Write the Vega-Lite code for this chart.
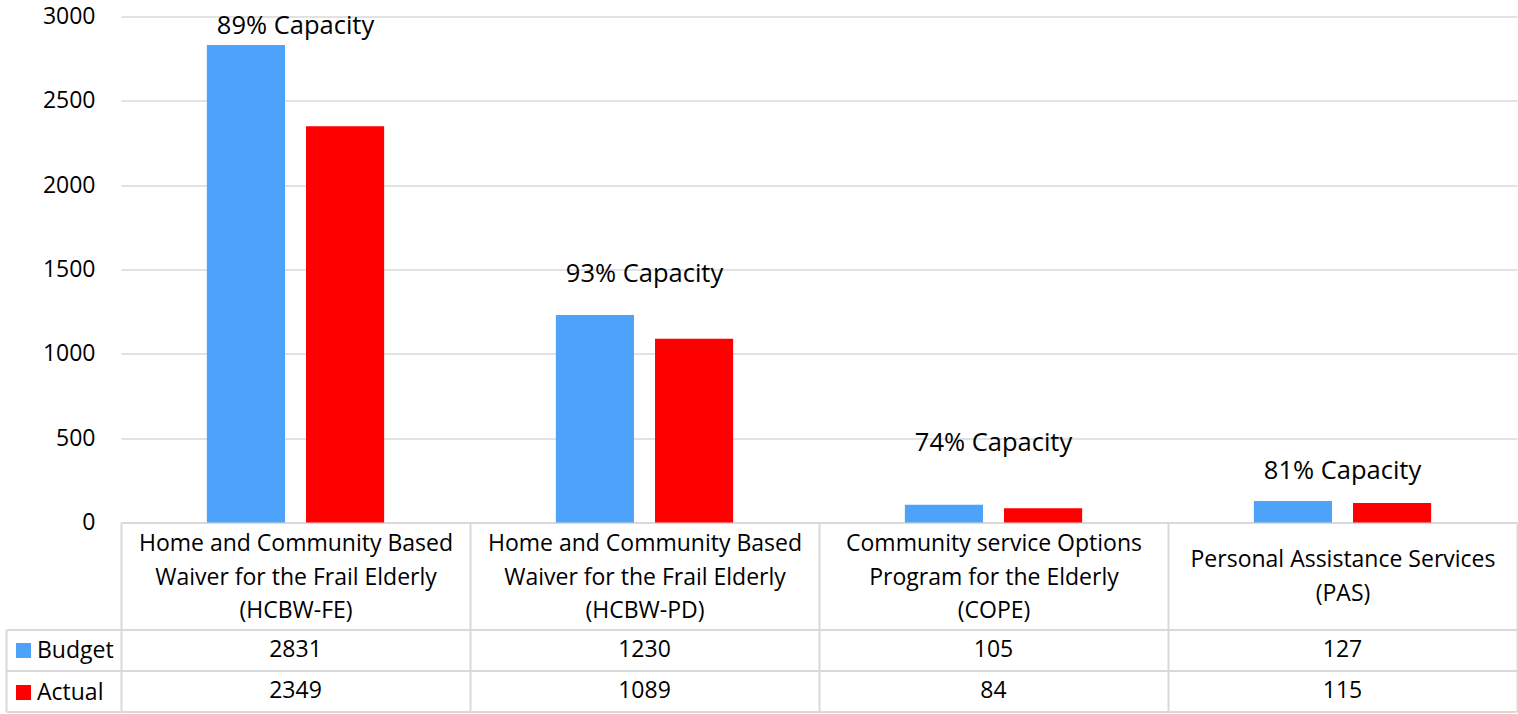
{
  "$schema": "https://vega.github.io/schema/vega-lite/v6.json",
  "autosize": {"type": "pad"},
  "padding": {"left": 5, "top": 5.5, "right": 0, "bottom": 0},
  "background": "#ffffff",
  "config": {
    "font": "Open Sans",
    "view": {"stroke": null},
    "axis": {"labelFont": "Open Sans", "labelColor": "#000000"},
    "legend": {"labelFont": "Open Sans"}
  },
  "datasets": {
    "bars": [
      {"category": "Home and Community Based\nWaiver for the Frail Elderly\n(HCBW-FE)", "series": "Budget", "value": 2831},
      {"category": "Home and Community Based\nWaiver for the Frail Elderly\n(HCBW-FE)", "series": "Actual", "value": 2349},
      {"category": "Home and Community Based\nWaiver for the Frail Elderly\n(HCBW-PD)", "series": "Budget", "value": 1230},
      {"category": "Home and Community Based\nWaiver for the Frail Elderly\n(HCBW-PD)", "series": "Actual", "value": 1089},
      {"category": "Community service Options\nProgram for the Elderly\n(COPE)", "series": "Budget", "value": 105},
      {"category": "Community service Options\nProgram for the Elderly\n(COPE)", "series": "Actual", "value": 84},
      {"category": "Personal Assistance Services\n(PAS)", "series": "Budget", "value": 127},
      {"category": "Personal Assistance Services\n(PAS)", "series": "Actual", "value": 115}
    ],
    "caps": [
      {"category": "Home and Community Based\nWaiver for the Frail Elderly\n(HCBW-FE)", "label": "89% Capacity", "labelY": 2899},
      {"category": "Home and Community Based\nWaiver for the Frail Elderly\n(HCBW-PD)", "label": "93% Capacity", "labelY": 1423},
      {"category": "Community service Options\nProgram for the Elderly\n(COPE)", "label": "74% Capacity", "labelY": 421},
      {"category": "Personal Assistance Services\n(PAS)", "label": "81% Capacity", "labelY": 255}
    ]
  },
  "spacing": 107,
  "bounds": "flush",
  "resolve": {"scale": {"x": "independent", "y": "independent", "color": "shared"}},
  "vconcat": [
    {
      "width": 1396,
      "height": 506,
      "layer": [
        {
          "data": {"name": "bars"},
          "mark": {"type": "bar"},
          "encoding": {
            "x": {
              "field": "category", "type": "nominal", "sort": null, "title": null,
              "scale": {"paddingInner": 0, "paddingOuter": 0},
              "axis": {
                "orient": "bottom", "domain": true, "domainColor": "#d9d9d9", "domainWidth": 2,
                "ticks": true, "tickBand": "extent", "tickSize": 107, "tickColor": "#d9d9d9", "tickWidth": 2,
                "labelExpr": "split(datum.label, '\\n')", "labelFontSize": 23, "labelLineHeight": 33.5,
                "labelBaseline": "middle",
                "labelPadding": {"condition": {"test": "length(split(datum.label, '\\n')) == 2", "value": -70}, "value": -86},
                "labelAngle": 0, "labelAlign": "center",
                "labelLimit": 500, "labelOverlap": false, "grid": false
              }
            },
            "xOffset": {"field": "series", "type": "nominal", "sort": ["Budget", "Actual"], "scale": {"paddingInner": 0.212, "paddingOuter": 0.866}},
            "y": {
              "field": "value", "type": "quantitative", "title": null,
              "scale": {"domain": [0, 3000], "nice": false},
              "axis": {
                "values": [0, 500, 1000, 1500, 2000, 2500, 3000], "format": "d",
                "domain": false, "ticks": false, "grid": true, "gridColor": "#d9d9d9", "gridWidth": 1.5,
                "labelFontSize": 23, "labelPadding": 26
              }
            },
            "color": {
              "field": "series", "type": "nominal", "sort": ["Budget", "Actual"],
              "scale": {"domain": ["Budget", "Actual"], "range": ["#4da3f9", "#ff0000"]},
              "legend": {
                "title": null, "orient": "none", "direction": "vertical", "legendX": -109, "legendY": 622.5,
                "symbolType": "square", "symbolSize": 225, "symbolStrokeWidth": 0,
                "labelFontSize": 23, "labelOffset": 2, "rowPadding": 18, "labelColor": "#000000", "padding": 0
              }
            }
          }
        },
        {
          "data": {"name": "caps"},
          "mark": {"type": "text", "fontSize": 25.5, "baseline": "alphabetic", "align": "center", "color": "#000000"},
          "encoding": {
            "x": {"field": "category", "type": "nominal", "sort": null, "title": null},
            "y": {"field": "labelY", "type": "quantitative", "title": null},
            "text": {"field": "label", "type": "nominal"}
          }
        }
      ]
    },
    {
      "width": 1396,
      "height": 82,
      "data": {"name": "bars"},
      "mark": {"type": "text", "fontSize": 23, "color": "#000000", "baseline": "middle", "align": "center"},
      "encoding": {
        "x": {
          "field": "category", "type": "nominal", "sort": null, "title": null,
          "scale": {"paddingInner": 0, "paddingOuter": 0},
          "axis": {"orient": "bottom", "labels": false, "ticks": false, "domain": false, "grid": true, "tickBand": "extent", "gridColor": "#d9d9d9", "gridWidth": 2}
        },
        "y": {
          "field": "series", "type": "nominal", "sort": ["Budget", "Actual"], "title": null,
          "scale": {"paddingInner": 0, "paddingOuter": 0},
          "axis": {
            "orient": "left", "offset": 115, "labels": false,
            "domain": true, "domainColor": "#d9d9d9", "domainWidth": 2,
            "ticks": true, "tickBand": "extent", "tickSize": -115, "tickColor": "#d9d9d9", "tickWidth": 2,
            "grid": true, "gridColor": "#d9d9d9", "gridWidth": 2
          }
        },
        "text": {"field": "value", "type": "quantitative", "format": "d"}
      }
    }
  ]
}
